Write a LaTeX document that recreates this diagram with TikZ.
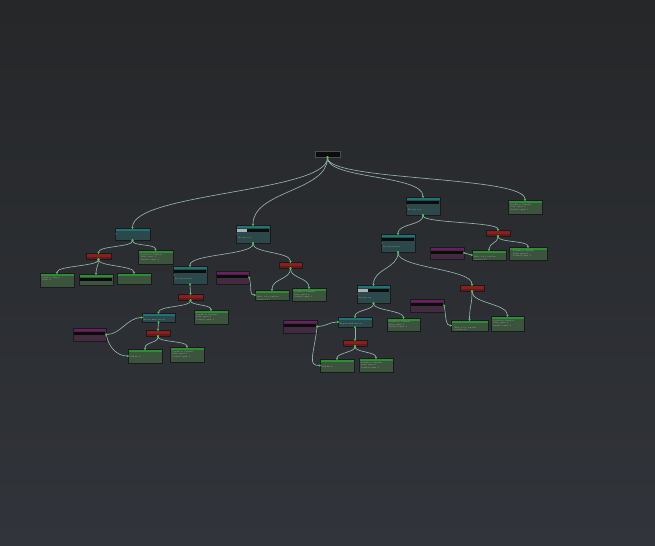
\documentclass[tikz,border=0pt]{standalone}
\usetikzlibrary{arrows.meta}
\definecolor{bgtop}{RGB}{37,39,41}
\definecolor{bgbot}{RGB}{49,52,58}
\definecolor{linkc}{RGB}{150,178,174}
\definecolor{portc}{RGB}{70,196,76}
\definecolor{tealhead}{RGB}{28,116,118}
\definecolor{tealbody}{RGB}{44,72,75}
\definecolor{grnhead}{RGB}{44,142,50}
\definecolor{grnbody}{RGB}{60,84,62}
\definecolor{redhead}{RGB}{146,28,28}
\definecolor{redbody}{RGB}{84,32,32}
\definecolor{purhead}{RGB}{110,28,100}
\definecolor{purbody}{RGB}{66,42,64}
\definecolor{barc}{RGB}{12,12,12}
\definecolor{inputc}{RGB}{170,176,180}
\definecolor{nodeline}{RGB}{24,26,28}
\definecolor{nodetext}{RGB}{200,208,200}
% text block inside a node: height, offset from top, lines
\newcommand{\bttext}[3]{\parbox[b][#1][t]{30bp}{\raggedright\vspace*{#2}#3}}
\newcommand{\condlines}{Condition: Variable\\Value equal: 1\\Variable equal: 1}
\begin{document}
\begin{tikzpicture}[x=1bp,y=-1bp,>={Circle[length=1.9bp,color=portc]},
  btnode/.style={rectangle,inner sep=0pt,draw=nodeline,line width=0.4bp,
    font=\fontsize{1.8}{2.5}\selectfont,text=nodetext,minimum width=34bp},
  hdr/.style 2 args={path picture={\fill[#1] (path picture bounding box.north west)
    rectangle ([yshift=-#2]path picture bounding box.north east);}},
  teal/.style={btnode,fill=tealbody,hdr={tealhead}{3.2bp}},
  cond/.style={btnode,fill=grnbody,hdr={grnhead}{3.4bp}},
  deco/.style={btnode,fill=redbody,hdr={redhead}{4bp},minimum width=24bp,minimum height=6bp},
  blackboard/.style={btnode,fill=purbody,hdr={purhead}{3.2bp},minimum width=33bp,minimum height=13bp},
  rootnode/.style={btnode,fill=barc,draw=gray!60!black,minimum width=25bp,minimum height=6bp},
  link/.style={draw=linkc,line width=0.65bp,<->,shorten <=-0.9bp,shorten >=-0.9bp}]
\shade[top color=bgtop,bottom color=bgbot] (0,0) rectangle (655,546);
\useasboundingbox (0,0) rectangle (655,546);
%%
  % Node: root
  \node[rootnode] (root) at (327.5,154) {};
  % Node: sel1 .. sel8
  \node[teal,minimum width=35bp,minimum height=12bp] (sel1) at (132.5,234) {};
  \node[teal,minimum height=18bp] (sel2) at (253,234) {\bttext{18bp}{12.3bp}{Priority seq.}};
  \node[teal,minimum height=18bp] (sel3) at (423,206) {\bttext{18bp}{12.3bp}{Priority seq.}};
  \node[teal,minimum height=18bp] (sel4) at (190,275) {\bttext{18bp}{12.3bp}{Priority selector}};
  \node[teal,minimum width=33bp,minimum height=9bp] (sel5) at (158.5,317.5) {\bttext{9bp}{5.8bp}{Repeat until success}};
  \node[teal,minimum height=18bp] (sel6) at (398,243) {\bttext{18bp}{12.3bp}{Priority selector}};
  \node[teal,minimum width=33bp,minimum height=18bp] (sel7) at (373.5,294) {\bttext{18bp}{12.3bp}{Priority seq.}};
  \node[teal,minimum height=10bp] (sel8) at (355,322) {\bttext{10bp}{6.3bp}{Repeat until success}};
  % Node: dec1 .. dec7
  \node[deco,minimum width=25bp] (dec1) at (98.5,256) {};
  \node[deco,minimum width=23bp] (dec2) at (290.5,265) {};
  \node[deco,minimum width=25bp] (dec3) at (190.5,297) {};
  \node[deco] (dec4) at (158,333) {};
  \node[deco] (dec5) at (498,233) {};
  \node[deco] (dec6) at (472,288) {};
  \node[deco] (dec7) at (355,343) {};
  % Node: bb1 .. bb5
  \node[blackboard] (bb1) at (232.5,277.5) {};
  \node[blackboard] (bb2) at (89.5,334.5) {};
  \node[blackboard,minimum width=34bp,minimum height=12bp] (bb3) at (447,253) {};
  \node[blackboard,minimum width=34bp] (bb4) at (427,305.5) {};
  \node[blackboard,minimum width=34bp] (bb5) at (300,326.5) {};
  % Node: leaf1 .. leaf17
  \node[cond,minimum height=14bp] (leaf1) at (525,207) {\bttext{14bp}{3.8bp}{\condlines}};
  \node[cond,minimum width=35bp,minimum height=14bp] (leaf2) at (155.5,257) {\bttext{14bp}{3.8bp}{\condlines}};
  \node[cond,minimum height=14bp] (leaf3) at (57,280) {\bttext{14bp}{3.8bp}{Variable: Target\\Value: 0}};
  \node[cond,minimum height=11bp] (leaf4) at (96,279.5) {};
  \node[cond,minimum height=11bp] (leaf5) at (134,278.5) {};
  \node[cond,minimum height=10bp] (leaf6) at (272,295) {\bttext{10bp}{6.3bp}{Wait: 1.0 s, random variance 0.5}};
  \node[cond,minimum height=13bp] (leaf7) at (309,294.5) {\bttext{13bp}{3.6bp}{\condlines}};
  \node[cond,minimum height=14bp] (leaf8) at (211,317) {\bttext{14bp}{3.8bp}{\condlines}};
  \node[cond,minimum height=14bp] (leaf9) at (145,356) {\bttext{14bp}{7.6bp}{Call Move}};
  \node[cond,minimum height=15bp] (leaf10) at (187,354.5) {\bttext{15bp}{4bp}{\condlines}};
  \node[cond,minimum height=10bp] (leaf11) at (489,255) {\bttext{10bp}{6.3bp}{Wait: 1.0 s, random variance 0.5}};
  \node[cond,minimum width=38bp,minimum height=13bp] (leaf12) at (528,253.5) {\bttext{13bp}{3.6bp}{\condlines}};
  \node[cond,minimum width=37bp,minimum height=11bp] (leaf13) at (469.5,325.5) {\bttext{11bp}{7bp}{Wait: 1.0 s, random variance 0.5}};
  \node[cond,minimum width=33bp,minimum height=15bp] (leaf14) at (507.5,323.5) {\bttext{15bp}{4bp}{\condlines}};
  \node[cond,minimum width=33bp,minimum height=13bp] (leaf15) at (403.5,324.5) {\bttext{13bp}{3.6bp}{\condlines}};
  \node[cond,minimum height=13bp] (leaf16) at (337,365.5) {\bttext{13bp}{7bp}{Call Move}};
  \node[cond,minimum height=14bp] (leaf17) at (376,365) {\bttext{14bp}{3.8bp}{\condlines}};
  % bars, input fields and side ports
  \foreach \n in {sel2,sel3,sel4,sel6,sel7,leaf4,bb1,bb2,bb3,bb4,bb5}
    \fill[barc] ([xshift=1.2bp,yshift=-4.2bp]\n.north west) rectangle ([xshift=-1.2bp,yshift=-7bp]\n.north east);
  \foreach \n in {sel2,sel7}
    \fill[inputc] ([xshift=1.2bp,yshift=-4bp]\n.north west) rectangle ([xshift=11bp,yshift=-7.6bp]\n.north west);
  \foreach \n in {sel1,sel2,sel3,sel4,sel5,sel6,sel7,sel8}
    \fill[inputc] ([xshift=1bp]\n.west) circle (0.5bp);
%%
  % Edge: root -> sel1, sel2, sel3, leaf1
  \draw[link] (root.south) .. controls +(0,35) and +(0,-35) .. (sel1.north);
  \draw[link] (root.south) .. controls +(0,34) and +(0,-34) .. (sel2.north);
  \draw[link] (root.south) .. controls +(0,22) and +(0,-22) .. (sel3.north);
  \draw[link] (root.south) .. controls +(0,24) and +(0,-24) .. (leaf1.north);
  % Edge: sel1 -> dec1, leaf2
  \draw[link] (sel1.south) .. controls +(0,7) and +(0,-7) .. (dec1.north);
  \draw[link] (sel1.south) .. controls +(0,6) and +(0,-6) .. (leaf2.north);
  % Edge: dec1 -> leaf3, leaf4, leaf5
  \draw[link] (dec1.south) .. controls +(0,7) and +(0,-7) .. (leaf3.north);
  \draw[link] (dec1.south) .. controls +(0,7) and +(0,-7) .. (leaf4.north);
  \draw[link] (dec1.south) .. controls +(0,7) and +(0,-7) .. (leaf5.north);
  % Edge: sel2 -> sel4, dec2
  \draw[link] (sel2.south) .. controls +(0,12) and +(0,-12) .. (sel4.north);
  \draw[link] (sel2.south) .. controls +(0,10) and +(0,-10) .. (dec2.north);
  % Edge: dec2 -> leaf6, leaf7
  \draw[link] (dec2.south) .. controls +(0,11) and +(0,-11) .. (leaf6.north);
  \draw[link] (dec2.south) .. controls +(0,10) and +(0,-10) .. (leaf7.north);
  % Edge: bb1 -> leaf6
  \draw[link] (bb1.east) .. controls +(3,12) and +(-6,0) .. (leaf6.west);
  % Edge: sel4 -> dec3
  \draw[link] (sel4.south) .. controls +(0,5) and +(0,-5) .. (dec3.north);
  % Edge: dec3 -> sel5, leaf8
  \draw[link] (dec3.south) .. controls +(0,7) and +(0,-7) .. (sel5.north);
  \draw[link] (dec3.south) .. controls +(0,5) and +(0,-5) .. (leaf8.north);
  % Edge: sel5 -> dec4
  \draw[link] (sel5.south) .. controls +(0,4) and +(0,-4) .. (dec4.north);
  % Edge: dec4 -> leaf9, leaf10
  \draw[link] (dec4.south) .. controls +(0,7) and +(0,-7) .. (leaf9.north);
  \draw[link] (dec4.south) .. controls +(0,6) and +(0,-6) .. (leaf10.north);
  % Edge: bb2 -> sel5, leaf9
  \draw[link] (bb2.east) .. controls +(14,0) and +(-14,0) .. (sel5.west);
  \draw[link] (bb2.east) .. controls +(3,14) and +(-10,0) .. (leaf9.west);
  % Edge: sel3 -> sel6, dec5
  \draw[link] (sel3.south) .. controls +(0,10) and +(0,-10) .. (sel6.north);
  \draw[link] (sel3.south) .. controls +(0,8) and +(0,-8) .. (dec5.north);
  % Edge: dec5 -> leaf11, leaf12
  \draw[link] (dec5.south) .. controls +(0,7) and +(0,-7) .. (leaf11.north);
  \draw[link] (dec5.south) .. controls +(0,6) and +(0,-6) .. (leaf12.north);
  % Edge: bb3 -> leaf11
  \draw[link] (bb3.east) .. controls +(4,0) and +(-4,0) .. (leaf11.west);
  % Edge: sel6 -> sel7, dec6
  \draw[link] (sel6.south) .. controls +(0,16) and +(0,-16) .. (sel7.north);
  \draw[link] (sel6.south) .. controls +(0,16) and +(0,-16) .. (dec6.north);
  % Edge: dec6 -> leaf13, leaf14
  \draw[link] (dec6.south) .. controls +(0,14) and +(0,-14) .. (leaf13.north);
  \draw[link] (dec6.south) .. controls +(0,12) and +(0,-12) .. (leaf14.north);
  % Edge: bb4 -> leaf13
  \draw[link] (bb4.east) .. controls +(2,14) and +(-5,0) .. (leaf13.west);
  % Edge: sel7 -> sel8, leaf15
  \draw[link] (sel7.south) .. controls +(0,7) and +(0,-7) .. (sel8.north);
  \draw[link] (sel7.south) .. controls +(0,7) and +(0,-7) .. (leaf15.north);
  % Edge: sel8 -> dec7
  \draw[link] (sel8.south) .. controls +(0,6) and +(0,-6) .. (dec7.north);
  % Edge: dec7 -> leaf16, leaf17
  \draw[link] (dec7.south) .. controls +(0,6) and +(0,-6) .. (leaf16.north);
  \draw[link] (dec7.south) .. controls +(0,6) and +(0,-6) .. (leaf17.north);
  % Edge: bb5 -> sel8, leaf16
  \draw[link] (bb5.east) .. controls +(8,0) and +(-8,0) .. (sel8.west);
  \draw[link] (bb5.east) .. controls +(-4,30) and +(-12,0) .. (leaf16.west);
%
\end{tikzpicture}
\end{document}
